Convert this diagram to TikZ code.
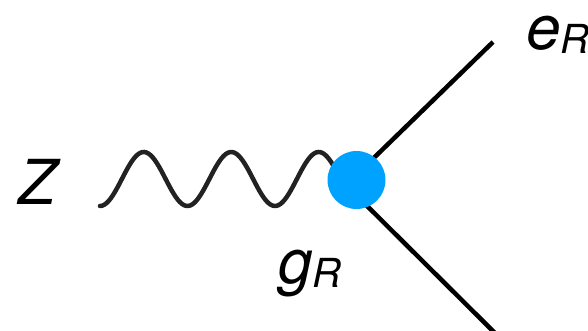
\documentclass[tikz,border=0pt]{standalone}
\usepackage{fontspec}
\setmainfont{TeX Gyre Heros}
\definecolor{vtxblue}{HTML}{00A2FF}
\definecolor{wavegray}{HTML}{222222}
\newcommand{\plabel}[2]{#1\raisebox{-4pt}{\fontsize{40}{40}\selectfont #2}}
\begin{document}
\begin{tikzpicture}[x=1pt,y=-1pt]
        \clip (0,0) rectangle (588,331);
        \coordinate (vtx) at (346,185);
        \coordinate (eend) at (493,42);
        \coordinate (pend) at (505,343);
        \draw[wavegray, line width=4.5pt, line cap=round] plot[domain=100:350, samples=120] (\x, {179+27*cos(4.1143*(\x-100))});
        \draw[line width=4.5pt] (vtx) -- (eend);
        \draw[line width=4.5pt] (vtx) -- (pend);
        \node at (356.5,180) (v) [circle, fill=vtxblue, inner sep=0pt, minimum size=58pt] {};
        \node at (18,204) (z) [anchor=base west, inner sep=0pt, font=\fontsize{62}{62}\selectfont\itshape] {Z};
        \node at (278,283) (g) [anchor=base west, inner sep=0pt, font=\fontsize{62}{62}\selectfont\itshape] {\plabel{g}{R}};
        \node at (526,50) (e) [anchor=base west, inner sep=0pt, font=\fontsize{62}{62}\selectfont\itshape] {\plabel{e}{R}};
    \end{tikzpicture}
\end{document}
